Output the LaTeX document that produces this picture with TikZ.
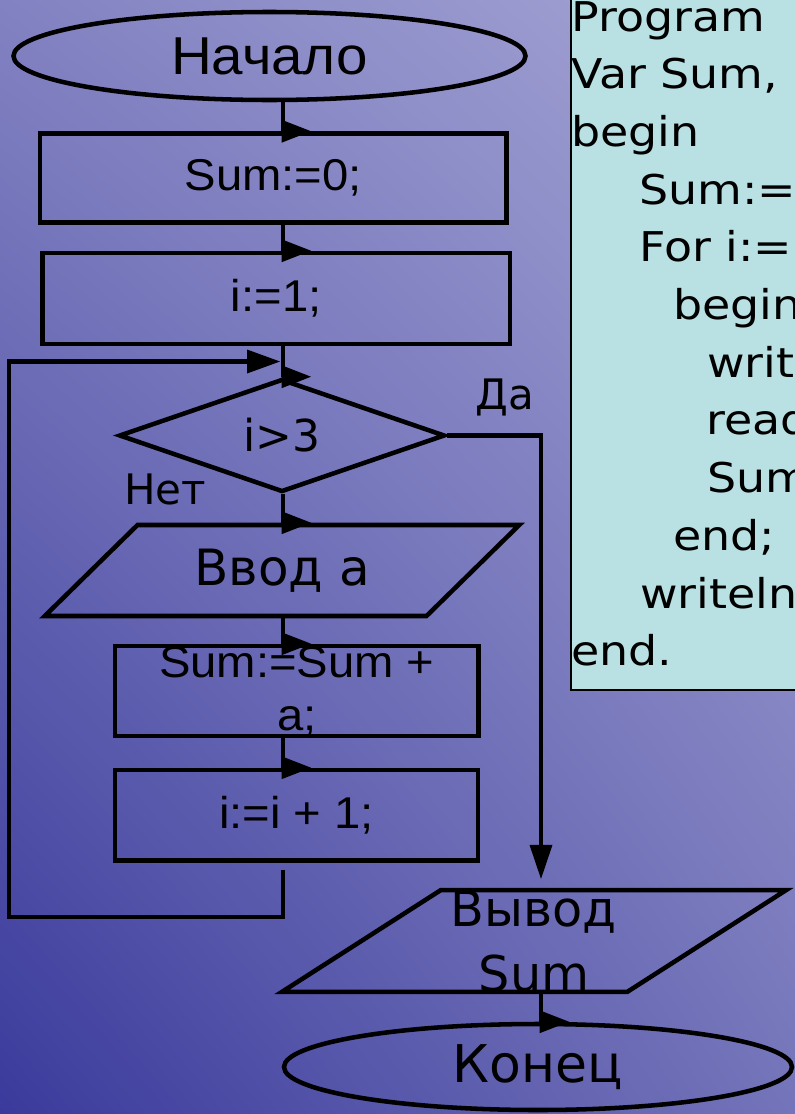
\documentclass[tikz,border=0pt]{standalone}
\usepackage{fontspec}
\usetikzlibrary{shapes.geometric,arrows.meta,calc,shadings}
\newfontfamily\arialf[FakeStretch=1.06]{Liberation Sans}
\newfontfamily\verdf{DejaVu Sans}
\newfontfamily\codef[FakeStretch=1.12]{DejaVu Sans}
\definecolor{codebg}{RGB}{185,224,227}
\definecolor{bgUL}{RGB}{130,130,194}
\definecolor{bgUR}{RGB}{166,166,214}
\definecolor{bgLL}{RGB}{58,58,156}
\definecolor{bgLR}{RGB}{116,116,186}
\newcommand\entrytri[1]{\fill (#1) ++(-1.5,-11.5) -- ++(0,23) -- ++(29.5,-11.5) -- cycle;}
\begin{document}
\begin{tikzpicture}[x=0.75pt,y=-0.75pt,
  shp/.style={draw=black,line width=3.4pt,inner sep=0pt,text=black},
  boxn/.style={shp,rectangle,align=center,font=\arialf\fontsize{33.4pt}{39.75pt}\selectfont},
  ell/.style={shp,ellipse},
  para/.style={shp,trapezium,trapezium stretches=true},
  conn/.style={line width=3.4pt,draw=black},
  tipR/.style={-{Triangle[length=24.75pt,width=18pt,line width=0pt]}},
  tipD/.style={-{Triangle[length=25.5pt,width=17.25pt,line width=0pt]}},
  lbl/.style={inner sep=0pt,text=black,font=\verdf\fontsize{31.5pt}{36pt}\selectfont},
  codeln/.style={inner sep=0pt,anchor=base west,text=black,font=\codef\fontsize{30.75pt}{36pt}\selectfont},
  codebox/.style={draw=black,line width=1.3pt,fill=codebg,rectangle,inner sep=0pt},
]
\useasboundingbox (0,0) rectangle (795,1114);
\clip (0,0) rectangle (795,1114);
\shade[upper left=bgUL,upper right=bgUR,lower left=bgLL,lower right=bgLR] (0,0) rectangle (795,1114);

% code listing
\node[codebox,minimum width=186.75pt,minimum height=532.5pt] (code) at (695.5,335) {};
\node[codeln] (c1) at (571,31) {Program};
\node[codeln] (c2) at (571,88.7) {Var Sum,};
\node[codeln] (c3) at (571,146.4) {begin};
\node[codeln] (c4) at (639,204.1) {Sum:=};
\node[codeln] (c5) at (639,261.8) {For i:=};
\node[codeln] (c6) at (673,319.5) {begin};
\node[codeln] (c7) at (707,377.2) {write};
\node[codeln] (c8) at (706,434.9) {read};
\node[codeln] (c9) at (707,492.6) {Sum};
\node[codeln] (c10) at (673,550.3) {end;};
\node[codeln] (c11) at (640,608) {writeln};
\node[codeln] (c12) at (571,665.7) {end.};

% flowchart nodes
\coordinate (ax) at (283,0);
\coordinate (bx) at (541,0);
\node[ell,minimum width=384pt,minimum height=66pt,font=\arialf\fontsize{40pt}{46pt}\selectfont] (start) at (269.5,56) {Начало};
\node[boxn,minimum width=350pt,minimum height=66.75pt] (b1) at (273.25,178) {Sum:=0;};
\node[boxn,minimum width=350.6pt,minimum height=68.25pt] (b2) at (276.25,298.5) {i:=1;};
\node[shp,diamond,minimum width=244.5pt,minimum height=84.75pt,font=\verdf\fontsize{33pt}{38pt}\selectfont] (dec) at (282,435.5) {i>3};
\node[para,trapezium left angle=37.6,trapezium right angle=142.4,minimum width=356.25pt,minimum height=68.25pt,font=\verdf\fontsize{37.5pt}{44pt}\selectfont] (inp) at (282,570.5) {Ввод а};
\node[boxn,minimum width=272.6pt,minimum height=67.5pt] (b3) at (296.75,691) {Sum:=Sum +\\a;};
\node[boxn,minimum width=272.25pt,minimum height=67.9pt] (b4) at (296.5,815.25) {i:=i + 1;};
\node[para,trapezium left angle=35.75,trapezium right angle=144.25,minimum width=379.5pt,minimum height=67.5pt,align=center,font=\verdf\fontsize{37pt}{48.75pt}\selectfont] (outp) at (534,941) {Вывод\\Sum};
\node[ell,minimum width=381pt,minimum height=64.5pt,font=\verdf\fontsize{39pt}{46pt}\selectfont] (fin) at (538,1067) {Конец};

\node[lbl] (yes) at (505,397) {Да};
\node[lbl] (no) at (165,489) {Нет};

% connectors
\draw[conn] (start.south -| ax) -- (b1.north -| ax);
\entrytri{b1.north -| ax}
\draw[conn] (b1.south -| ax) -- (b2.north -| ax);
\entrytri{b2.north -| ax}
\draw[conn] (b2.south -| ax) -- (dec.north -| ax);
\entrytri{dec.north -| ax}
\draw[conn] (dec.south -| ax) -- (inp.north -| ax);
\entrytri{inp.north -| ax}
\draw[conn] (inp.south -| ax) -- (b3.north -| ax);
\entrytri{b3.north -| ax}
\draw[conn] (b3.south -| ax) -- (b4.north -| ax);
\entrytri{b4.north -| ax}

\coordinate (lstart) at ($(b4.south -| ax)+(0,7)$);
\coordinate (lbot) at (9,917);
\coordinate (loopin) at (280,361.5);
\draw[conn,tipR] (lstart) |- (lbot) |- (loopin);

\coordinate (ytip) at ($(outp.north -| bx)+(0,-9)$);
\draw[conn,tipD] (dec.east) -| (ytip);

\draw[conn] (outp.south -| bx) -- (fin.north -| bx);
\entrytri{fin.north -| bx}
\end{tikzpicture}
\end{document}
